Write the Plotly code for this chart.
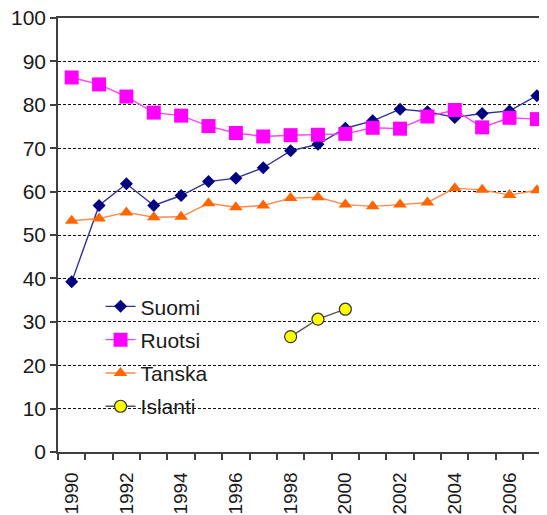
import plotly.graph_objects as go

years = list(range(1990, 2008))
suomi = [39.2, 56.8, 61.8, 56.8, 59.1, 62.3, 63.1, 65.5, 69.4, 70.9, 74.6, 76.3, 79.0, 78.4, 77.1, 78.0, 78.6, 82.1]
ruotsi = [86.3, 84.7, 81.9, 78.2, 77.5, 75.1, 73.5, 72.7, 73.0, 73.1, 73.3, 74.7, 74.5, 77.3, 78.8, 74.8, 77.0, 76.7]
tanska = [53.3, 53.8, 55.2, 54.1, 54.2, 57.3, 56.4, 56.8, 58.5, 58.7, 57.0, 56.6, 57.0, 57.5, 60.8, 60.4, 59.2, 60.3]
islanti_years = [1998, 1999, 2000]
islanti = [26.6, 30.6, 32.9]
xtick_years = list(range(1990, 2008, 2))
xtick_labels = [str(y) for y in xtick_years]
boundaries = [y - 0.5 for y in range(1990, 2009)]

FONT = "Liberation Sans, Arial, sans-serif"
TXT = "#1a1a1a"

fig = go.Figure()
fig.add_trace(go.Scatter(x=years, y=suomi, name="Suomi", mode="lines+markers",
                         line=dict(color="#30309a", width=1.4),
                         marker=dict(symbol="diamond", size=10, color="#000080"),
                         legendgroup="a", cliponaxis=False))
fig.add_trace(go.Scatter(x=years, y=ruotsi, name="Ruotsi", mode="lines+markers",
                         line=dict(color="#ff40ff", width=1.4),
                         marker=dict(symbol="square", size=14, color="#ff00ff"),
                         legendgroup="b", cliponaxis=False))
fig.add_trace(go.Scatter(x=years, y=tanska, name="Tanska", mode="lines+markers",
                         line=dict(color="#ff8a4a", width=1.4),
                         marker=dict(symbol="triangle-up", size=12, color="#ff6600"),
                         legendgroup="c", cliponaxis=False))
fig.add_trace(go.Scatter(x=islanti_years, y=islanti, name="Islanti", mode="lines+markers",
                         line=dict(color="#555555", width=1.4),
                         marker=dict(symbol="circle", size=12, color="#ffff00",
                                     line=dict(color="#333333", width=1.2)),
                         legendgroup="d", cliponaxis=False))

# white box behind legend hiding gridlines
fig.add_shape(type="rect", xref="paper", yref="y", x0=0.051, x1=0.346, y0=7, y1=36,
              fillcolor="white", line=dict(width=0), layer="between")

fig.update_layout(
    width=539, height=507,
    margin=dict(l=50, r=0, t=10, b=63, autoexpand=False),
    paper_bgcolor="white", plot_bgcolor="white",
    font=dict(family=FONT, size=21, color=TXT),
    showlegend=True,
    legend=dict(x=0.087, xanchor="left", y=0.382, yanchor="top",
                bgcolor="rgba(0,0,0,0)", font=dict(size=21, color=TXT),
                traceorder="grouped", tracegroupgap=3),
    xaxis=dict(range=[1989.5, 2007.37], tickvals=xtick_years, ticktext=xtick_labels,
               tickangle=-90, ticks="", showgrid=False, zeroline=False, automargin=False,
               showline=True, linecolor="#404040", linewidth=1.5, mirror=True,
               ticklabelstandoff=11, ticklabeloverflow="allow",
               tickfont=dict(size=19, color=TXT),
               minor=dict(tickvals=boundaries, ticks="outside", ticklen=6,
                          tickcolor="#404040", tickwidth=1.5, showgrid=False)),
    yaxis=dict(range=[0, 100], dtick=10, tick0=0, ticks="outside", ticklen=6,
               tickcolor="#404040", tickwidth=1.5, automargin=False,
               ticklabeloverflow="allow",
               showline=True, linecolor="#404040", linewidth=1.5,
               showgrid=True, gridcolor="#111111", gridwidth=1, griddash="3px,2px",
               zeroline=False, tickfont=dict(size=21, color=TXT)),
)

fig.write_html("out.html")
